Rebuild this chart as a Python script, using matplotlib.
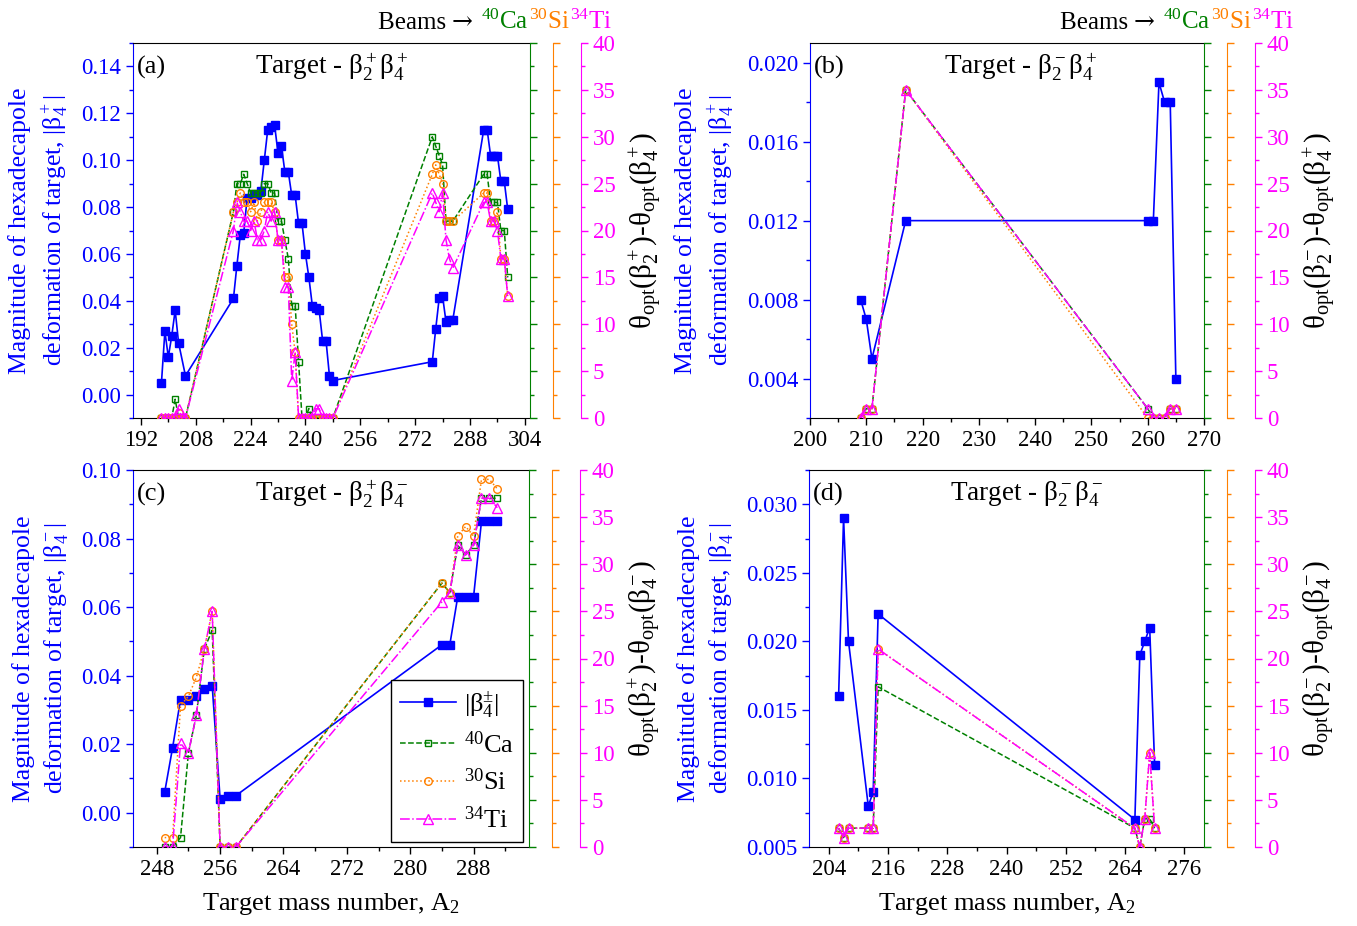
import matplotlib
matplotlib.use('Agg')
import matplotlib.pyplot as plt
from matplotlib.ticker import MultipleLocator, FormatStrFormatter
from matplotlib.offsetbox import TextArea, HPacker, AnchoredOffsetbox

plt.rcParams['font.family'] = ['Liberation Serif', 'DejaVu Serif']
plt.rcParams['mathtext.fontset'] = 'custom'
plt.rcParams['mathtext.rm'] = 'Liberation Serif'
plt.rcParams['mathtext.it'] = 'Liberation Serif:italic'
plt.rcParams['mathtext.bf'] = 'Liberation Serif:bold'

BLUE = '#0000FF'
GREEN = '#008000'
ORANGE = '#FF8000'
MAGENTA = '#FF00FF'

# ---- panel (a): target beta2+ beta4+ ----
a_mass = [198, 199, 200, 201, 202, 203, 205,
          219, 220, 221, 222, 223, 224, 225, 226, 227, 228, 229, 230, 231, 232, 233,
          234, 235, 236, 237, 238, 239, 240, 241, 242, 243, 244, 245, 246, 247, 248,
          277, 278, 279, 280, 281, 282, 283,
          292, 293, 294, 295, 296, 297, 298, 299]
a_beta4 = [0.005, 0.027, 0.016, 0.025, 0.036, 0.022, 0.008,
           0.041, 0.055, 0.068, 0.069, 0.084, 0.084, 0.085, 0.085, 0.087, 0.100, 0.113, 0.114, 0.115, 0.103, 0.106,
           0.095, 0.095, 0.085, 0.085, 0.073, 0.073, 0.060, 0.050, 0.038, 0.037, 0.036, 0.023, 0.023, 0.008, 0.006,
           0.014, 0.028, 0.041, 0.042, 0.031, 0.032, 0.032,
           0.113, 0.113, 0.102, 0.102, 0.102, 0.091, 0.091, 0.079]
a_mass_th = [198, 199, 200, 201, 202, 203, 204, 205,
             219, 220, 221, 222, 223, 224, 225, 226, 227, 228, 229, 230, 231, 232, 233,
             234, 235, 236, 237, 238, 239, 240, 241, 242, 243, 244, 245, 246, 247, 248,
             277, 278, 279, 280, 281, 282, 283,
             292, 293, 294, 295, 296, 297, 298, 299]
a_ca = [0, 0, 0, 0, 2, 0, 0, 0,
        22, 25, 25, 26, 25, 24, 24, 24, 24, 25, 25, 24, 24, 21, 21,
        19, 17, 12, 12, 6, 0, 0, 1, 0, 0, 0, 0, 0, 0, 0,
        30, 29, 28, 27, 21, 21, 21,
        26, 26, 23, 23, 23, 20, 20, 15]
a_si = [0, 0, 0, 0, 0, 0.5, 0, 0,
        22, 23, 24, 23, 23, 22, 23, 21, 22, 23, 23, 23, 22, 19, 19,
        15, 15, 10, 7, 0, 0, 0, 0, 0, 0, 0, 0, 0, 0, 0,
        26, 27, 26, 25, 21, 21, 21,
        24, 24, 21, 21, 22, 17, 17, 13]
a_ti = [0, 0, 0, 0, 0, 1, 0, 0,
        20, 23, 22, 21, 21, 20, 21, 19, 19, 20, 22, 21, 22, 19, 19,
        14, 14, 4, 7, 0, 0, 0, 0, 0, 1, 1, 0, 0, 0, 0,
        24, 23, 22, 24, 19, 17, 16,
        23, 23, 21, 21, 20, 17, 17, 13]

# ---- panel (b): target beta2- beta4+ ----
b_mass = [209, 210, 211, 217, 260, 261, 262, 263, 264, 265]
b_beta4 = [0.008, 0.007, 0.005, 0.012, 0.012, 0.012, 0.019, 0.018, 0.018, 0.004]
b_ca = [0, 1, 1, 35, 1, 0, 0, 0, 1, 1]
b_si = [0, 1, 1, 35, 0, 0, 0, 0, 1, 1]
b_ti = [0, 1, 1, 35, 1, 0, 0, 0, 1, 1]

# ---- panel (c): target beta2+ beta4- ----
c_mass = [249, 250, 251, 252, 253, 254, 255, 256, 257, 258,
          284, 285, 286, 287, 288, 289, 290, 291]
c_beta4 = [0.006, 0.019, 0.033, 0.033, 0.034, 0.036, 0.037, 0.004, 0.005, 0.005,
           0.049, 0.049, 0.063, 0.063, 0.063, 0.085, 0.085, 0.085]
c_ca = [0, 0, 1, 10, 14, 21, 23, 0, 0, 0, 28, 27, 32, 31, 32, 37, 37, 37]
c_si = [1, 1, 15, 16, 18, 21, 25, 0, 0, 0, 28, 27, 33, 34, 33, 39, 39, 38]
c_ti = [0, 0, 11, 10, 14, 21, 25, 0, 0, 0, 26, 27, 32, 31, 32, 37, 37, 36]

# ---- panel (d): target beta2- beta4- ----
d_mass = [206, 207, 208, 212, 213, 214, 266, 267, 268, 269, 270]
d_beta4 = [0.016, 0.029, 0.020, 0.008, 0.009, 0.022, 0.007, 0.019, 0.020, 0.021, 0.011]
d_ca = [2, 1, 2, 2, 2, 17, 2, 0, 3, 3, 2]
d_si = [2, 1, 2, 2, 2, 21, 2, 0, 3, 10, 2]
d_ti = [2, 1, 2, 2, 2, 21, 2, 0, 3, 10, 2]

W, H = 1357, 926
fig = plt.figure(figsize=(W / 100, H / 100), dpi=100)

FS_TICK = 16.5
FS_LAB = 19


def rect(l, r, t, b):
    return [l / W, 1 - b / H, (r - l) / W, (b - t) / H]


def panel(pos, mass, beta, mass_th, ca, si, ti, xlim, xstep, ylim, ystep, yfmt,
          title, title_x, tag, ylab, rlab, xlab=False, legend=False):
    ax = fig.add_axes(pos)
    hb, = ax.plot(mass, beta, '-s', color=BLUE, lw=1.2, ms=6, zorder=3)
    ax.set_xlim(xlim)
    ax.set_ylim(ylim)
    ax.xaxis.set_major_locator(MultipleLocator(xstep))
    ax.xaxis.set_minor_locator(MultipleLocator(xstep / 2))
    ax.yaxis.set_major_locator(MultipleLocator(ystep))
    ax.yaxis.set_minor_locator(MultipleLocator(ystep / 2))
    ax.yaxis.set_major_formatter(FormatStrFormatter(yfmt))
    ax.spines['left'].set_color(BLUE)
    ax.spines['right'].set_visible(False)
    ax.tick_params(which='both', direction='out', top=False, right=False, width=1)
    ax.tick_params(which='major', length=5, labelsize=FS_TICK)
    ax.tick_params(which='minor', length=3)
    ax.tick_params(axis='y', which='both', colors=BLUE)
    ax.set_ylabel(ylab, color=BLUE, fontsize=18.5, labelpad=8, linespacing=1.35)
    if xlab:
        ax.set_xlabel('Target mass number, A$_2$', fontsize=FS_LAB, labelpad=8)
    ax.text(title_x, 0.935, title, transform=ax.transAxes, ha='center', va='center', fontsize=19.5)
    ax.text(0.01, 0.935, tag, transform=ax.transAxes, ha='left', va='center', fontsize=FS_LAB)

    handles = [hb]
    styles = [(ca, GREEN, '--', 's', 4.5, 0),
              (si, ORANGE, ':', 'o', 5.5, 23),
              (ti, MAGENTA, '-.', '^', 6.5, 51)]
    tw = None
    for vals, col, ls, mk, ms, off in styles:
        tw = ax.twinx()
        tw.set_ylim(0, 40)
        for s in ['left', 'top', 'bottom']:
            tw.spines[s].set_visible(False)
        tw.spines['right'].set_color(col)
        if off:
            tw.spines['right'].set_position(('outward', off * 0.72))
        h, = tw.plot(mass_th, vals, linestyle=ls, marker=mk, color=col, mfc='none',
                     ms=ms, lw=1.1, mew=1)
        handles.append(h)
        tw.yaxis.set_major_locator(MultipleLocator(5))
        tw.yaxis.set_minor_locator(MultipleLocator(2.5))
        tw.tick_params(axis='y', which='both', colors=col, direction='out', width=1)
        tw.tick_params(axis='y', which='major', length=5, labelsize=FS_TICK)
        tw.tick_params(axis='y', which='minor', length=3)
        if col != MAGENTA:
            tw.tick_params(axis='y', labelright=False)
    tw.set_ylabel(rlab, color='black', fontsize=21, labelpad=9)

    if legend:
        labels = [r'$|\mathrm{β}_4^{\pm}|$', r'$^{40}$Ca', r'$^{30}$Si', r'$^{34}$Ti']
        leg = tw.legend(handles, labels, loc='lower right', bbox_to_anchor=(0.985, 0.013),
                        fontsize=FS_LAB, handlelength=2.1, handletextpad=0.3,
                        labelspacing=0.42, borderpad=0.35, borderaxespad=0,
                        fancybox=False, edgecolor='black', framealpha=1)
        leg.get_frame().set_linewidth(1)
    return ax


b = r'\mathrm{β}'
panel(rect(133, 530, 43, 418), a_mass, a_beta4, a_mass_th, a_ca, a_si, a_ti,
      (189.7, 305.5), 16, (-0.01, 0.15), 0.02, '%.2f',
      r'Target - $' + b + r'_2^+' + b + r'_4^+$', 0.5, '(a)',
      'Magnitude of hexadecapole\ndeformation of target, $|' + b + r'_4^+|$',
      r'$\mathrm{θ_{opt}}(' + b + r'_2^+)$-$\mathrm{θ_{opt}}(' + b + r'_4^+)$')

panel(rect(810, 1204, 43, 418), b_mass, b_beta4, b_mass, b_ca, b_si, b_ti,
      (200, 270), 10, (0.002, 0.021), 0.004, '%.3f',
      r'Target - $' + b + r'_2^-' + b + r'_4^+$', 0.535, '(b)',
      'Magnitude of hexadecapole\ndeformation of target, $|' + b + r'_4^+|$',
      r'$\mathrm{θ_{opt}}(' + b + r'_2^-)$-$\mathrm{θ_{opt}}(' + b + r'_4^+)$')

panel(rect(133, 529, 470, 847), c_mass, c_beta4, c_mass, c_ca, c_si, c_ti,
      (245, 295), 8, (-0.01, 0.10), 0.02, '%.2f',
      r'Target - $' + b + r'_2^+' + b + r'_4^-$', 0.5, '(c)',
      'Magnitude of hexadecapole\ndeformation of target, $|' + b + r'_4^-|$',
      r'$\mathrm{θ_{opt}}(' + b + r'_2^+)$-$\mathrm{θ_{opt}}(' + b + r'_4^-)$',
      xlab=True, legend=True)

panel(rect(809, 1204, 470, 847), d_mass, d_beta4, d_mass, d_ca, d_si, d_ti,
      (200, 280), 12, (0.005, 0.0325), 0.005, '%.3f',
      r'Target - $' + b + r'_2^-' + b + r'_4^-$', 0.55, '(d)',
      'Magnitude of hexadecapole\ndeformation of target, $|' + b + r'_4^-|$',
      r'$\mathrm{θ_{opt}}(' + b + r'_2^-)$-$\mathrm{θ_{opt}}(' + b + r'_4^-)$',
      xlab=True)


# beams header, coloured pieces
def beams(x_px):
    parts = [TextArea('Beams ', textprops=dict(color='black', fontsize=18)),
             TextArea('→ ', textprops=dict(color='black', fontsize=18, family='DejaVu Serif')),
             TextArea(r'$^{40}$Ca', textprops=dict(color=GREEN, fontsize=18)),
             TextArea(r'$^{30}$Si ', textprops=dict(color=ORANGE, fontsize=18)),
             TextArea(r'$^{34}$Ti', textprops=dict(color=MAGENTA, fontsize=18))]
    box = HPacker(children=parts, align='baseline', pad=0, sep=0)
    anch = AnchoredOffsetbox(loc='lower left', child=box, pad=0, borderpad=0, frameon=False,
                             bbox_to_anchor=(x_px / W, 1 - 34 / H),
                             bbox_transform=fig.transFigure)
    fig.add_artist(anch)


beams(378)
beams(1060)

fig.savefig('out.png', dpi=100)
